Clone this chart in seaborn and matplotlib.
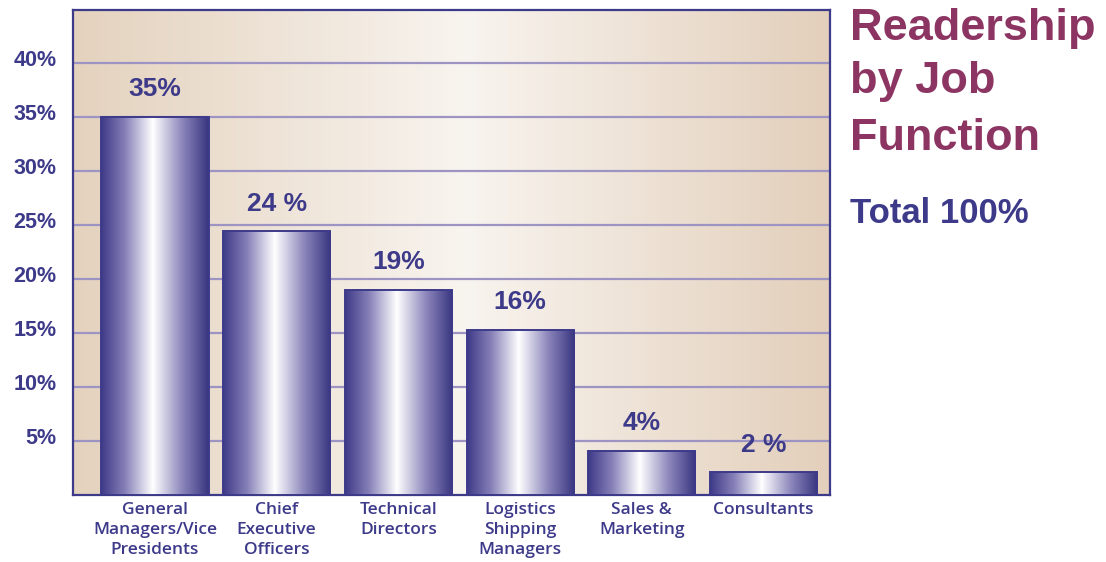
import numpy as np
import pandas as pd
import matplotlib
matplotlib.use("Agg")
import matplotlib.pyplot as plt
import seaborn as sns
from matplotlib.colors import LinearSegmentedColormap
from matplotlib.transforms import ScaledTranslation

# ---- data ----
categories = ["General\nManagers/Vice\nPresidents", "Chief\nExecutive\nOfficers",
              "Technical\nDirectors", "Logistics\nShipping\nManagers",
              "Sales &\nMarketing", "Consultants"]
values = [35.0, 24.4, 19.0, 15.3, 4.1, 2.1]
value_labels = ["35%", "24 %", "19%", "16%", "4%", "2 %"]
y_ticks = [5, 10, 15, 20, 25, 30, 35, 40]
y_tick_labels = ["5%", "10%", "15%", "20%", "25%", "30%", "35%", "40%"]
title_lines = ["Readership", "by Job", "Function"]
subtitle = "Total 100%"

NAVY = "#3d3a8a"
MAROON = "#8c3563"
GRID = "#9d94c4"

sns.set_theme(style="white")
plt.rcParams["font.family"] = ["Liberation Sans", "DejaVu Sans"]

fig = plt.figure(figsize=(11.06, 5.62), dpi=100)
ax = fig.add_axes([73 / 1106, 1 - 495 / 562, 757 / 1106, 485 / 562])

df = pd.DataFrame({"cat": categories, "val": values})
sns.barplot(data=df, x="cat", y="val", ax=ax, width=0.88, color=NAVY,
            saturation=1, edgecolor=NAVY, linewidth=1.4, zorder=4)

XLIM = (-0.674, 5.546)
YLIM = (0, 44.9)

# background gradient
bg_cmap = LinearSegmentedColormap.from_list(
    "bg", [(0, "#e4d2be"), (0.52, "#f8f4ef"), (1, "#e3cfbb")])
bg = np.linspace(0, 1, 256).reshape(1, -1)
ax.imshow(bg, extent=[XLIM[0], XLIM[1], YLIM[0], YLIM[1]], cmap=bg_cmap,
          aspect="auto", zorder=0, interpolation="bicubic")

# cylindrical gradient on bars
bar_cmap = LinearSegmentedColormap.from_list(
    "bar", [(0, "#3f3a88"), (0.22, "#857fb7"), (0.48, "#ffffff"),
            (0.75, "#8d87bc"), (1, "#393580")])
grad = np.linspace(0, 1, 256).reshape(1, -1)
for p, lab in zip(ax.patches, value_labels):
    x0, w, h = p.get_x(), p.get_width(), p.get_height()
    p.set_facecolor("none")
    im = ax.imshow(grad, extent=[x0, x0 + w, 0, h], cmap=bar_cmap,
                   aspect="auto", zorder=3, interpolation="bicubic")
    im.set_clip_path(p)
    ax.annotate(lab, (x0 + w / 2, h), xytext=(0, 20), textcoords="offset points",
                ha="center", va="center", fontsize=19, fontweight="bold",
                color=NAVY, zorder=5)

ax.set_xlim(*XLIM)
ax.set_ylim(*YLIM)

ax.set_yticks(y_ticks)
ax.set_yticklabels(y_tick_labels, fontsize=15.5, fontweight="bold", color=NAVY)
ax.set_axisbelow(True)
ax.yaxis.grid(True, color=GRID, linewidth=1.6, zorder=1)
ax.xaxis.grid(False)
ax.tick_params(axis="y", length=0, pad=12)
ax.tick_params(axis="x", length=0, pad=5)
for t in ax.get_yticklabels():
    t.set_transform(t.get_transform() + ScaledTranslation(0, 5 / 100, fig.dpi_scale_trans))
for t in ax.get_xticklabels():
    t.set_fontfamily(["Open Sans", "DejaVu Sans"])
    t.set_fontweight("semibold")
    t.set_fontsize(12.5)
    t.set_color(NAVY)
    t.set_linespacing(1.35)
ax.set_xlabel("")
ax.set_ylabel("")

for s in ax.spines.values():
    s.set_visible(True)
    s.set_color(NAVY)
    s.set_linewidth(1.6)

# titles
baselines = [40, 93, 150]
for line, yb in zip(title_lines, baselines):
    fig.text(850 / 1106, 1 - yb / 562, line, fontsize=32.5, fontweight="bold",
             color=MAROON, ha="left", va="baseline")
fig.text(850 / 1106, 1 - 223 / 562, subtitle, fontsize=25, fontweight="bold",
         color=NAVY, ha="left", va="baseline")

fig.savefig("out.png", dpi=100)
